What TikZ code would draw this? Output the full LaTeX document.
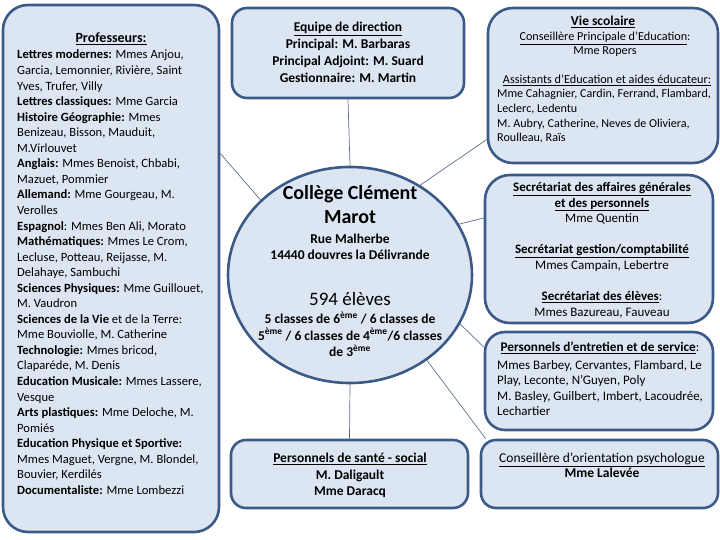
\documentclass[tikz,border=0pt]{standalone}
\usepackage{fontspec}
\setmainfont{Carlito}
\usetikzlibrary{shapes.geometric}
\definecolor{boxfill}{RGB}{220,230,242}
\definecolor{boxline}{RGB}{60,90,135}
\definecolor{linkcol}{RGB}{95,110,135}
\newcommand{\uln}[1]{\underline{#1}}
\begin{document}
\begin{tikzpicture}[x=1pt,y=-1pt,
  panel/.style={draw=boxline, line width=2.6pt, fill=boxfill, rounded corners=#1, inner sep=0pt},
  link/.style={draw=linkcol, line width=0.7pt},
  txt/.style={inner sep=0pt, anchor=base},
  txtl/.style={inner sep=0pt, anchor=base west}]
\useasboundingbox (0,0) rectangle (720,540);

% boxes
\node[panel=25pt, minimum width=216pt, minimum height=527pt] (prof) at (111,268.5) {};
\node[panel=15pt, minimum width=232pt, minimum height=90pt] (dir) at (348,53) {};
\node[panel=15pt, minimum width=237pt, minimum height=68pt] (sante) at (349.5,474) {};
\node[panel=25pt, minimum width=230pt, minimum height=155pt] (vie) at (603,85.5) {};
\node[panel=25pt, minimum width=228pt, minimum height=148pt] (sec) at (599,249) {};
\node[panel=20pt, minimum width=228pt, minimum height=98pt] (ent) at (599,381) {};
\node[panel=15pt, minimum width=237pt, minimum height=68pt] (cop) at (599.5,474) {};
\node[ellipse, draw=boxline, line width=2.6pt, fill=boxfill, inner sep=0pt,
      minimum width=244pt, minimum height=216pt] (college) at (350,275) {};

% connectors
\draw[link] ([yshift=115pt]prof.east) -- (college.140);
\draw[link] (dir.south) -- (college.north);
\draw[link] (college.south) -- (sante.north);
\draw[link] (college.52) -- ([yshift=-54pt]vie.west);
\draw[link] (college.25) -- ([yshift=31pt]sec.west);
\draw[link] (college.-24) -- ([yshift=34pt]ent.west);
\draw[link] (college.-48) -- ([xshift=6pt]cop.north west);

% professeurs
\node[txt, font=\fontsize{14}{15}\bfseries] (ptitle) at (111,43) {\uln{Professeurs:}};
\node[txtl, font=\fontsize{12.6}{15.55}\selectfont] (plist) at (17,59) {\begin{tabular}[t]{@{}l@{}}
\textbf{Lettres modernes:} Mmes Anjou,\\
Garcia, Lemonnier, Rivière, Saint\\
Yves, Trufer, Villy\\
\textbf{Lettres classiques:} Mme Garcia\\
\textbf{Histoire Géographie:} Mmes\\
Benizeau, Bisson, Mauduit,\\
M.Virlouvet\\
\textbf{Anglais:} Mmes Benoist, Chbabi,\\
Mazuet, Pommier\\
\textbf{Allemand:} Mme Gourgeau, M.\\
Verolles\\
\textbf{Espagnol}: Mmes Ben Ali, Morato\\
\textbf{Mathématiques:} Mmes Le Crom,\\
Lecluse, Potteau, Reijasse, M.\\
Delahaye, Sambuchi\\
\textbf{Sciences Physiques:} Mme Guillouet,\\
M. Vaudron\\
\textbf{Sciences de la Vie} et de la Terre:\\
Mme Bouviolle, M. Catherine\\
\textbf{Technologie:} Mmes bricod,\\
Claparéde, M. Denis\\
\textbf{Education Musicale:} Mmes Lassere,\\
Vesque\\
\textbf{Arts plastiques:} Mme Deloche, M.\\
Pomiés\\
\textbf{Education Physique et Sportive:}\\
Mmes Maguet, Vergne, M. Blondel,\\
Bouvier, Kerdilés\\
\textbf{Documentaliste:} Mme Lombezzi
\end{tabular}};

% direction
\node[txt, font=\fontsize{13.5}{16.7}\bfseries] (dtext) at (348,32) {\begin{tabular}[t]{@{}c@{}}
\uln{Equipe de direction}\\
Principal: M. Barbaras\\
Principal Adjoint: M. Suard\\
Gestionnaire: M. Martin
\end{tabular}};

% college
\node[txt, font=\fontsize{20}{24}\bfseries] (cname) at (350,200) {\begin{tabular}[t]{@{}c@{}}Collège Clément\\Marot\end{tabular}};
\node[txt, font=\fontsize{13.5}{16}\bfseries] (caddr) at (350,243.5) {\begin{tabular}[t]{@{}c@{}}Rue Malherbe\\14440 douvres la Délivrande\end{tabular}};
\node[txt, font=\fontsize{19}{24}\selectfont] (ceff) at (350,305) {594 élèves};
\node[txt, font=\fontsize{13.5}{16.5}\bfseries] (cclass) at (350,323.5) {\begin{tabular}[t]{@{}c@{}}
5 classes de 6\textsuperscript{ème} / 6 classes de\\
5\textsuperscript{ème} / 6 classes de 4\textsuperscript{ème}/6 classes\\
de 3\textsuperscript{ème}
\end{tabular}};

% sante
\node[txt, font=\fontsize{13.5}{16.5}\bfseries] (stext) at (350,462.5) {\begin{tabular}[t]{@{}c@{}}
\uln{Personnels de santé - social}\\
M. Daligault\\
Mme Daracq
\end{tabular}};

% vie scolaire
\node[txt, font=\fontsize{13.5}{15}\bfseries] (vt1) at (603,25.5) {\uln{Vie scolaire}};
\node[txt, font=\fontsize{12.2}{14}\selectfont] (vt2) at (605,41) {\begin{tabular}[t]{@{}c@{}}
\uln{Conseillère Principale d’Education}:\\
Mme Ropers
\end{tabular}};
\node[txt, font=\fontsize{12.2}{14}\selectfont] (vt3) at (607,84) {\uln{Assistants d’Education et aides éducateur:}};
\node[txtl, font=\fontsize{12.1}{14.6}\selectfont] (vt4) at (497,98) {\begin{tabular}[t]{@{}l@{}}
Mme Cahagnier, Cardin, Ferrand, Flambard,\\
Leclerc, Ledentu\\
M. Aubry, Catherine, Neves de Oliviera,\\
Roulleau, Raïs
\end{tabular}};

% secretariats
\node[txt, font=\fontsize{13}{15.6}\selectfont] (sectext) at (602,191.5) {\begin{tabular}[t]{@{}c@{}}
\uln{\textbf{Secrétariat des affaires générales}}\\
\uln{\textbf{et des personnels}}\\
Mme Quentin\\[15.6pt]
\uln{\textbf{Secrétariat gestion/comptabilité}}\\
Mmes Campain, Lebertre\\[15.6pt]
\uln{\textbf{Secrétariat des élèves}}:\\
Mmes Bazureau, Fauveau
\end{tabular}};

% entretien
\node[txt, font=\fontsize{13.2}{15}\selectfont] (et1) at (600,351.5) {\uln{\textbf{Personnels d’entretien et de service}}:};
\node[txtl, font=\fontsize{13}{15.3}\selectfont] (et2) at (497,369.5) {\begin{tabular}[t]{@{}l@{}}
Mmes Barbey, Cervantes, Flambard, Le\\
Play, Leconte, N’Guyen, Poly\\
M. Basley, Guilbert, Imbert, Lacoudrée,\\
Lechartier
\end{tabular}};

% conseillere d'orientation
\node[txt, font=\fontsize{13.5}{15}\selectfont] (ctext) at (602,462.5) {\begin{tabular}[t]{@{}c@{}}
\uln{Conseillère d’orientation psychologue}\\
\textbf{Mme Lalevée}
\end{tabular}};
\end{tikzpicture}
\end{document}
